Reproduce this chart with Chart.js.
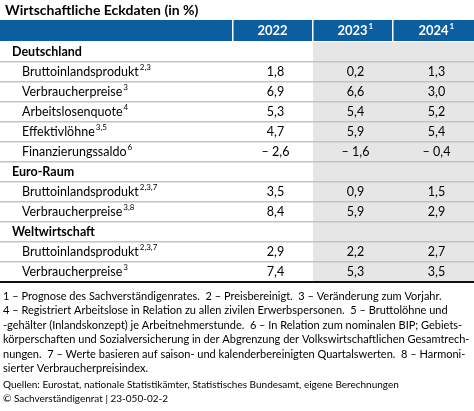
<!DOCTYPE html>
<html><head><meta charset="utf-8">
<script src="https://cdn.jsdelivr.net/npm/chart.js@4"></script>
<style>html,body{margin:0;padding:0;background:#fff}#w{width:474px;height:411px;position:relative}</style>
</head><body><div id="w"><canvas id="c"></canvas></div>
<script>
const title = "Wirtschaftliche Eckdaten (in %)";
const years = ["2022", "2023", "2024"];
const yearSup = ["", "1", "1"];
const rowLabels = ["Deutschland","Bruttoinlandsprodukt","Verbraucherpreise","Arbeitslosenquote","Effektivlöhne","Finanzierungssaldo","Euro-Raum","Bruttoinlandsprodukt","Verbraucherpreise","Weltwirtschaft","Bruttoinlandsprodukt","Verbraucherpreise"];
const rowSup = ["","2,3","3","4","3,5","6","","2,3,7","3,8","","2,3,7","3"];
const isGroup = [true,false,false,false,false,false,true,false,false,true,false,false];
const v2022 = [null,1.8,6.9,5.3,4.7,-2.6,null,3.5,8.4,null,2.9,7.4];
const v2023 = [null,0.2,6.6,5.4,5.9,-1.6,null,0.9,5.9,null,2.2,5.3];
const v2024 = [null,1.3,3.0,5.2,5.4,-0.4,null,1.5,2.9,null,2.7,3.5];
const footLines = [
"1 – Prognose des Sachverständigenrates.  2 – Preisbereinigt.  3 – Veränderung zum Vorjahr.",
"4 – Registriert Arbeitslose in Relation zu allen zivilen Erwerbspersonen.  5 – Bruttolöhne und",
"-gehälter (Inlandskonzept) je Arbeitnehmerstunde.  6 – In Relation zum nominalen BIP; Gebiets-",
"körperschaften und Sozialversicherung in der Abgrenzung der Volkswirtschaftlichen Gesamtrech-",
"nungen.  7 – Werte basieren auf saison- und kalenderbereinigten Quartalswerten.  8 – Harmoni-",
"sierter Verbraucherpreisindex."];
const sources = ["Quellen: Eurostat, nationale Statistikämter, Statistisches Bundesamt, eigene Berechnungen","© Sachverständigenrat | 23-050-02-2"];

const F = "Lato, 'Noto Sans', sans-serif";
function fmt(v){ if(v==null) return ""; const s=Math.abs(v).toFixed(1).replace(".",","); return v<0?"– "+s:s; }

const tablePlugin = {
  id:'table',
  afterDraw(chart){
    const ctx=chart.ctx, xs=chart.scales.x, ys=chart.scales.y;
    const X=v=>xs.getPixelForValue(v);
    const colL=[X(233),X(313),X(393)], colR=[X(312),X(392),X(474)];
    const top=ys.top, bot=ys.bottom, rowH=(bot-top)/rowLabels.length;
    ctx.save();
    ctx.textBaseline='middle';
    ctx.fillStyle='#000'; ctx.font="bold 14px "+F; ctx.textAlign='left';
    ctx.fillText(title,5,10);
    ctx.fillStyle='#0b5ea0'; ctx.fillRect(X(0),20,X(474)-X(0),top-21);
    ctx.fillStyle='#fff';
    [X(232),X(312),X(392)].forEach(x=>ctx.fillRect(x,20,1.5,top-21));
    ctx.fillStyle='#e6e6e6'; ctx.fillRect(colL[1],top,X(474)-colL[1],bot-top);
    ctx.fillStyle='#fff';
    years.forEach((y,i)=>{
      const cx=(colL[i]+colR[i])/2;
      ctx.font="bold 13px "+F; ctx.textAlign='center';
      ctx.fillText(y,cx,31);
      if(yearSup[i]){ const w=ctx.measureText(y).width; ctx.font="bold 8px "+F; ctx.textAlign='left'; ctx.fillText(yearSup[i],cx+w/2+1,26); }
    });
    rowLabels.forEach((lab,i)=>{
      const cy=ys.getPixelForValue(i);
      ctx.fillStyle='#000'; ctx.textAlign='left';
      if(isGroup[i]){ ctx.font="bold 12.5px "+F; ctx.fillText(lab,12,cy); }
      else {
        ctx.font="12.5px "+F; ctx.fillText(lab,22,cy);
        const w=ctx.measureText(lab).width; ctx.font="8px "+F; ctx.fillText(rowSup[i],22+w+1,cy-5);
        ctx.font="12.5px "+F; ctx.textAlign='center';
        [v2022,v2023,v2024].forEach((arr,k)=>ctx.fillText(fmt(arr[i]),(colL[k]+colR[k])/2+3,cy));
      }
      if(i>0){ ctx.fillStyle='#c4c4c4'; ctx.fillRect(X(0),cy-rowH/2-1,X(474)-X(0),1.5); }
    });
    ctx.fillStyle='#111'; ctx.fillRect(X(0),bot-1,X(474)-X(0),2);
    ctx.fillStyle='#000'; ctx.textAlign='left'; ctx.font="11px "+F;
    footLines.forEach((t,i)=>ctx.fillText(t,3,296+i*14.5));
    ctx.font="10px "+F;
    sources.forEach((t,i)=>ctx.fillText(t,3,385+i*14));
    ctx.restore();
  }
};

new Chart(document.getElementById('c'),{
  type:'bar',
  data:{labels:rowLabels,datasets:[{data:rowLabels.map(()=>null)}]},
  options:{
    responsive:true,maintainAspectRatio:false,animation:false,
    indexAxis:'y',
    layout:{padding:{top:42,bottom:129,left:0,right:0}},
    plugins:{legend:{display:false},tooltip:{enabled:false}},
    scales:{
      x:{type:'linear',min:0,max:474,display:false},
      y:{type:'category',display:false,offset:true,grid:{display:false}}
    }
  },
  plugins:[tablePlugin]
});
</script></body></html>
